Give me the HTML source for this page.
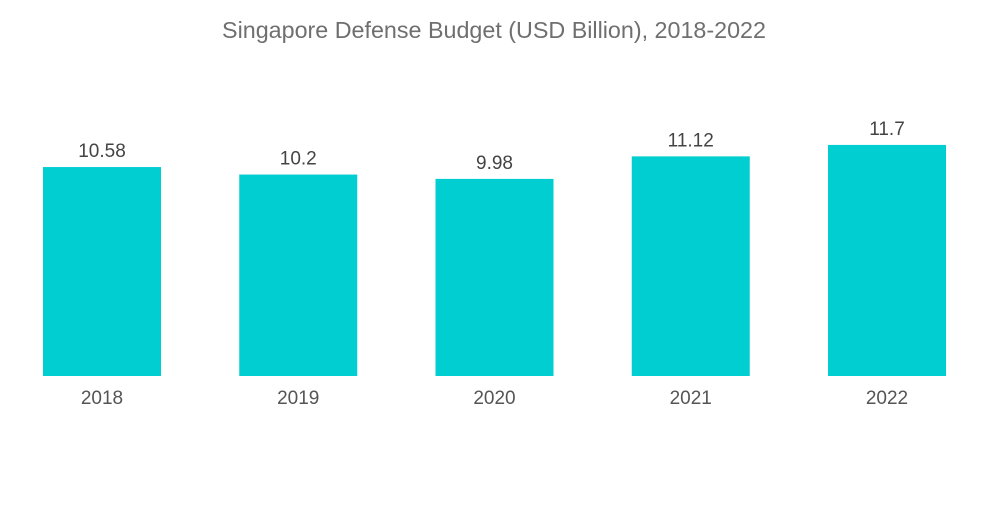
<!DOCTYPE html>
<html><head><meta charset="utf-8"><style>
body{margin:0;background:#fff;width:1000px;height:504px;overflow:hidden;font-family:"Liberation Sans",sans-serif}
</style></head><body>
<svg id="chart" width="1000" height="504">
<text x="494" y="38" text-anchor="middle" font-size="23.3" fill="#6f6f6f">Singapore Defense Budget (USD Billion), 2018-2022</text>
<g id="bars"></g>
</svg>
<script>
const categories=["2018","2019","2020","2021","2022"];
const values=[10.58,10.2,9.98,11.12,11.7];
const labels=["10.58","10.2","9.98","11.12","11.7"];
const baseY=376, scale=19.75, x0=43, step=196.25, bw=118;
const yPos=v=>baseY-v*scale;
const xPos=i=>x0+i*step;
const g=document.getElementById('bars');
const ns="http://www.w3.org/2000/svg";
categories.forEach((c,i)=>{
  const r=document.createElementNS(ns,'rect');
  r.setAttribute('x',xPos(i));r.setAttribute('y',yPos(values[i]));
  r.setAttribute('width',bw);r.setAttribute('height',baseY-yPos(values[i]));
  r.setAttribute('fill','#00ced1');
  
  
  g.appendChild(r);
  const t=document.createElementNS(ns,'text');
  t.setAttribute('x',xPos(i)+bw/2);t.setAttribute('y',yPos(values[i])-10);
  t.setAttribute('text-anchor','middle');t.setAttribute('font-size','19');t.setAttribute('fill','#444');
  t.textContent=labels[i];
  
  
  g.appendChild(t);
  const l=document.createElementNS(ns,'text');
  l.setAttribute('x',xPos(i)+bw/2);l.setAttribute('y',404);
  l.setAttribute('text-anchor','middle');l.setAttribute('font-size','19');l.setAttribute('fill','#555');
  l.textContent=c;
  
  
  g.appendChild(l);
});
</script>
</body></html>
